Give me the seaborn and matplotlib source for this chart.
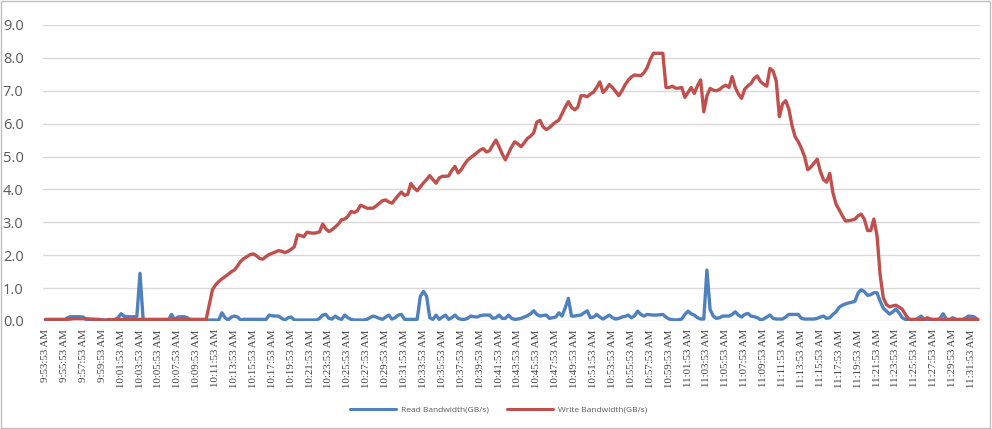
import pandas as pd
import matplotlib
matplotlib.use("Agg")
import matplotlib.pyplot as plt
import seaborn as sns
from matplotlib.lines import Line2D
from matplotlib.patches import Rectangle

# samples every 20 s starting 9:53:53 AM, one row of 6 per 2-minute label
read_bw = [
    0.02, 0.02, 0.02, 0.02, 0.02, 0.02,
    0.02, 0.10, 0.13, 0.13, 0.13, 0.13,
    0.12, 0.03, 0.03, 0.03, 0.03, 0.03,
    0.03, 0.03, 0.03, 0.03, 0.03, 0.10,
    0.22, 0.14, 0.13, 0.13, 0.13, 0.14,
    1.45, 0.03, 0.03, 0.03, 0.03, 0.03,
    0.03, 0.03, 0.03, 0.03, 0.20, 0.04,
    0.12, 0.13, 0.13, 0.10, 0.03, 0.03,
    0.03, 0.03, 0.03, 0.03, 0.03, 0.03,
    0.03, 0.03, 0.25, 0.10, 0.03, 0.12,
    0.15, 0.12, 0.03, 0.05, 0.05, 0.05,
    0.05, 0.05, 0.05, 0.05, 0.05, 0.18,
    0.16, 0.15, 0.15, 0.08, 0.03, 0.10,
    0.12, 0.03, 0.03, 0.03, 0.03, 0.03,
    0.03, 0.03, 0.03, 0.08, 0.18, 0.20,
    0.08, 0.06, 0.15, 0.08, 0.05, 0.18,
    0.10, 0.05, 0.03, 0.03, 0.03, 0.03,
    0.05, 0.10, 0.15, 0.12, 0.08, 0.05,
    0.12, 0.18, 0.06, 0.10, 0.18, 0.20,
    0.05, 0.05, 0.05, 0.05, 0.05, 0.75,
    0.90, 0.75, 0.10, 0.05, 0.18, 0.05,
    0.12, 0.18, 0.05, 0.10, 0.18, 0.08,
    0.05, 0.05, 0.08, 0.15, 0.13, 0.12,
    0.16, 0.18, 0.18, 0.18, 0.08, 0.10,
    0.18, 0.08, 0.08, 0.18, 0.08, 0.05,
    0.06, 0.08, 0.12, 0.16, 0.22, 0.31,
    0.20, 0.15, 0.17, 0.18, 0.08, 0.10,
    0.12, 0.25, 0.15, 0.40, 0.69, 0.15,
    0.15, 0.17, 0.18, 0.25, 0.31, 0.10,
    0.12, 0.20, 0.12, 0.06, 0.12, 0.18,
    0.10, 0.06, 0.08, 0.12, 0.14, 0.18,
    0.10, 0.15, 0.30, 0.20, 0.15, 0.20,
    0.19, 0.18, 0.18, 0.19, 0.20, 0.12,
    0.06, 0.04, 0.03, 0.04, 0.06, 0.20,
    0.30, 0.22, 0.18, 0.10, 0.06, 0.06,
    1.55, 0.35, 0.15, 0.08, 0.10, 0.15,
    0.15, 0.15, 0.20, 0.28, 0.18, 0.12,
    0.20, 0.23, 0.15, 0.13, 0.10, 0.04,
    0.06, 0.12, 0.18, 0.08, 0.06, 0.06,
    0.06, 0.12, 0.20, 0.20, 0.20, 0.20,
    0.08, 0.06, 0.06, 0.06, 0.06, 0.08,
    0.12, 0.15, 0.08, 0.10, 0.20, 0.28,
    0.42, 0.48, 0.52, 0.55, 0.57, 0.60,
    0.85, 0.95, 0.89, 0.78, 0.80, 0.86,
    0.86, 0.60, 0.39, 0.30, 0.21, 0.28,
    0.36, 0.25, 0.10, 0.05, 0.03, 0.03,
    0.03, 0.08, 0.15, 0.05, 0.03, 0.06,
    0.03, 0.03, 0.08, 0.22, 0.05, 0.03,
    0.10, 0.05, 0.03, 0.03, 0.08, 0.15,
    0.14, 0.12, 0.03,
]

write_bw = [
    0.05, 0.05, 0.05, 0.05, 0.05, 0.05,
    0.05, 0.05, 0.06, 0.07, 0.07, 0.07,
    0.07, 0.07, 0.06, 0.06, 0.05, 0.05,
    0.03, 0.02, 0.05, 0.03, 0.05, 0.05,
    0.05, 0.05, 0.05, 0.05, 0.05, 0.05,
    0.05, 0.05, 0.05, 0.05, 0.05, 0.05,
    0.05, 0.05, 0.05, 0.05, 0.05, 0.05,
    0.05, 0.05, 0.05, 0.05, 0.05, 0.05,
    0.05, 0.05, 0.05, 0.05, 0.50, 0.95,
    1.10, 1.20, 1.28, 1.35, 1.42, 1.50,
    1.55, 1.68, 1.82, 1.90, 1.96, 2.02,
    2.04, 1.98, 1.90, 1.88, 1.96, 2.02,
    2.06, 2.10, 2.14, 2.12, 2.08, 2.12,
    2.18, 2.26, 2.62, 2.60, 2.56, 2.70,
    2.68, 2.67, 2.68, 2.71, 2.95, 2.80,
    2.72, 2.78, 2.86, 2.95, 3.08, 3.10,
    3.18, 3.33, 3.30, 3.35, 3.52, 3.48,
    3.43, 3.43, 3.43, 3.50, 3.58, 3.66,
    3.68, 3.62, 3.58, 3.70, 3.82, 3.92,
    3.82, 3.85, 4.18, 4.05, 3.96, 4.08,
    4.20, 4.30, 4.42, 4.30, 4.19, 4.35,
    4.40, 4.40, 4.41, 4.58, 4.70, 4.50,
    4.60, 4.76, 4.89, 4.97, 5.04, 5.12,
    5.20, 5.24, 5.14, 5.18, 5.35, 5.50,
    5.30, 5.08, 4.90, 5.10, 5.30, 5.45,
    5.38, 5.30, 5.42, 5.55, 5.62, 5.72,
    6.05, 6.10, 5.90, 5.82, 5.88, 5.97,
    6.05, 6.11, 6.30, 6.50, 6.67, 6.50,
    6.42, 6.50, 6.85, 6.85, 6.82, 6.90,
    6.96, 7.10, 7.27, 6.95, 7.05, 7.19,
    7.10, 6.98, 6.85, 7.00, 7.18, 7.32,
    7.42, 7.48, 7.47, 7.46, 7.55, 7.70,
    7.95, 8.14, 8.14, 8.14, 8.14, 7.10,
    7.10, 7.14, 7.08, 7.08, 7.10, 6.80,
    6.95, 7.10, 6.92, 7.15, 7.33, 6.36,
    6.85, 7.07, 7.02, 7.00, 7.04, 7.12,
    7.17, 7.10, 7.43, 7.10, 6.90, 6.77,
    7.05, 7.15, 7.22, 7.38, 7.45, 7.28,
    7.20, 7.14, 7.68, 7.60, 7.30, 6.21,
    6.60, 6.70, 6.45, 5.95, 5.60, 5.45,
    5.25, 5.00, 4.60, 4.68, 4.80, 4.92,
    4.55, 4.30, 4.22, 4.49, 3.90, 3.55,
    3.38, 3.20, 3.04, 3.05, 3.07, 3.10,
    3.20, 3.25, 3.09, 2.75, 2.75, 3.10,
    2.60, 1.40, 0.70, 0.50, 0.43, 0.46,
    0.48, 0.42, 0.36, 0.20, 0.06, 0.05,
    0.05, 0.05, 0.05, 0.05, 0.10, 0.05,
    0.05, 0.05, 0.05, 0.05, 0.05, 0.05,
    0.05, 0.05, 0.05, 0.05, 0.05, 0.05,
    0.05, 0.05, 0.05,
]

times = pd.date_range("2000-01-01 09:53:53", periods=len(read_bw), freq="20s")
tick_idx = list(range(0, len(times), 6))
tick_labels = [times[i].strftime("%I:%M:%S %p").lstrip("0") for i in tick_idx]

read_name = "Read Bandwidth(GB/s)"
write_name = "Write Bandwidth(GB/s)"
colors = {read_name: "#4F81BD", write_name: "#C0504D"}

df = pd.DataFrame({"idx": range(len(read_bw)), read_name: read_bw, write_name: write_bw})
long_df = df.melt(id_vars="idx", var_name="series", value_name="bw")

sns.set_style("white")
plt.rcParams["font.family"] = ["Open Sans", "DejaVu Sans"]

fig = plt.figure(figsize=(9.92, 4.29), dpi=100)
ax = fig.add_axes([43 / 992, 108 / 429, 937 / 992, 296 / 429])

sns.lineplot(data=long_df, x="idx", y="bw", hue="series", palette=colors,
             linewidth=2.4, ax=ax, legend=False)

ax.set_xlim(-0.8, 296.7)
ax.set_ylim(0, 9)
ax.set_yticks([i * 1.0 for i in range(10)])
ax.set_yticklabels([f"{i:.1f}" for i in range(10)], fontsize=10.5, color="#595959")
ax.yaxis.grid(True, color="#D9D9D9", linewidth=1)
ax.set_axisbelow(True)
ax.set_xticks(tick_idx)
ax.set_xticklabels(tick_labels, rotation=90, fontsize=7.8, color="#404040",
                   family="Liberation Serif", va="top")
ax.tick_params(axis="x", length=0, pad=6)
ax.tick_params(axis="y", length=0, pad=14)
ax.set_xlabel("")
ax.set_ylabel("")
for s in ax.spines.values():
    s.set_visible(False)

handles = [Line2D([0], [0], color=colors[read_name], lw=2.2),
           Line2D([0], [0], color=colors[write_name], lw=2.2)]
fig.legend(handles, [read_name, write_name], loc="center", bbox_to_anchor=(0.503, 0.045),
           ncol=2, frameon=False, fontsize=6, labelcolor="#595959",
           handlelength=5.5, columnspacing=2.2, handletextpad=0.6)

fig.patches.append(Rectangle((0.001, 0.002), 0.997, 0.995, transform=fig.transFigure,
                             fill=False, edgecolor="#BFBFBF", linewidth=1))

fig.savefig("out.png", dpi=100)
